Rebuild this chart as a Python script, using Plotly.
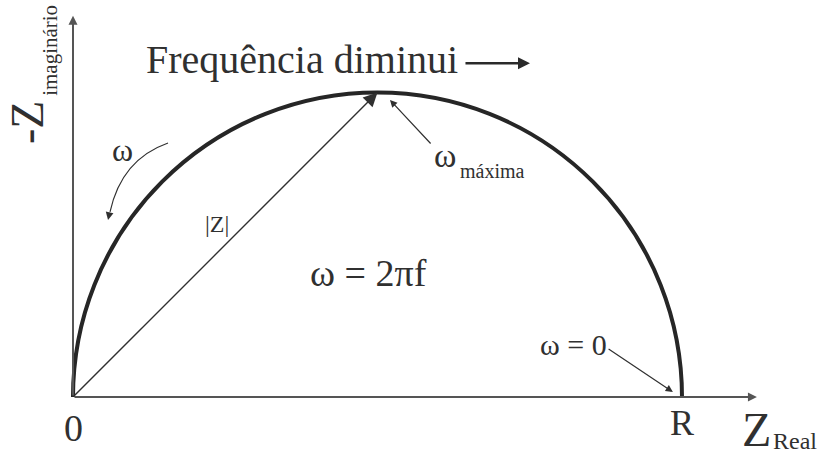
import plotly.graph_objects as go

# Nyquist diagram of a parallel RC element (normalised resistance)
R = 1.0
top = (R / 2, R / 2)          # point of maximum -Z'' (omega maximum)

axis_tip_x = 1.123 * R
axis_tip_y = 0.626 * R

FONT = "Liberation Serif"
INK = "#303030"

fig = go.Figure()

# invisible trace to set up the axes
fig.add_trace(go.Scatter(x=[0, R], y=[0, 0], mode="markers",
                         marker=dict(size=1, color="rgba(0,0,0,0)"),
                         hoverinfo="skip", showlegend=False))

# semicircle: full circle clipped by the y range at -Z'' = 0
fig.add_shape(type="circle", xref="x", yref="y",
              x0=0, x1=R, y0=-R / 2, y1=R / 2,
              line=dict(color="#262626", width=4), layer="above")

# curved arrow along the arc (direction of increasing omega)
fig.add_shape(type="path", xref="x", yref="y",
              path="M 0.156 0.417 Q 0.0796 0.390 0.0608 0.3038",
              line=dict(color=INK, width=1.2))

ann = []

def arrow(x, y, ax, ay, width=1.2, size=1.2, head=2, color=INK):
    ann.append(dict(x=x, y=y, ax=ax, ay=ay, xref="x", yref="y",
                    axref="x", ayref="y", text="", showarrow=True,
                    arrowhead=head, arrowwidth=width, arrowsize=size,
                    arrowcolor=color))

def label(text, x, y, size, xanchor="center", yanchor="middle",
          xref="x", yref="y", angle=0):
    ann.append(dict(x=x, y=y, xref=xref, yref=yref, text=text,
                    showarrow=False, xanchor=xanchor, yanchor=yanchor,
                    textangle=angle,
                    font=dict(family=FONT, size=size, color=INK)))

# axes
arrow(axis_tip_x, 0, 0, 0, width=2, size=0.9, color="#555555")
arrow(0, axis_tip_y, 0, 0, width=2, size=0.9, color="#555555")

# |Z| vector to the top of the arc
arrow(top[0], top[1], 0, 0, width=1.4, size=2.0)
# omega max pointer
arrow(0.5205, 0.4877, 0.5895, 0.4138)
# omega = 0 pointer
arrow(0.985 * R, 0.0082, 0.877, 0.0805)
# head of the curved arrow
arrow(0.0575, 0.2906, 0.0605, 0.305, width=1.2, size=1.3)
# arrow next to the title
arrow(0.7504, 0.548, 0.642, 0.548, width=2.4, size=1.0, color="#2a2a2a")

label("Frequência diminui", 0.1165, 0.555, 40, xanchor="left")
label("-Z", -0.0739, 0.4516, 46, angle=-90)
label("imaginário", -0.0378, 0.570, 21, angle=-90)
label("ω", 0.0805, 0.4056, 32)
label("|Z|", 0.2365, 0.284, 24)
label("ω = 2πf", 0.485, 0.2036, 38)
label("ω", 0.5895, 0.397, 34, xanchor="left")
label("máxima", 0.632, 0.371, 20, xanchor="left")
label("ω = 0", 0.7640, 0.0854, 30, xanchor="left")
label("0", 0, -0.078, 38, yref="paper")
label("R", R, -0.0655, 36, yref="paper")
label("Z", 1.0952, -0.083, 48, xanchor="left", yref="paper")
label("Real", 1.146, -0.1475, 24, xanchor="left", yanchor="bottom",
      yref="paper")

fig.update_layout(
    width=822, height=456,
    margin=dict(l=0, r=0, t=0, b=59),
    paper_bgcolor="white", plot_bgcolor="white",
    xaxis=dict(range=[-73 / 609, 749 / 609], visible=False, fixedrange=True),
    yaxis=dict(range=[0, 397 / 609], visible=False, fixedrange=True),
    annotations=ann,
    showlegend=False,
)

fig.write_html("out.html")
